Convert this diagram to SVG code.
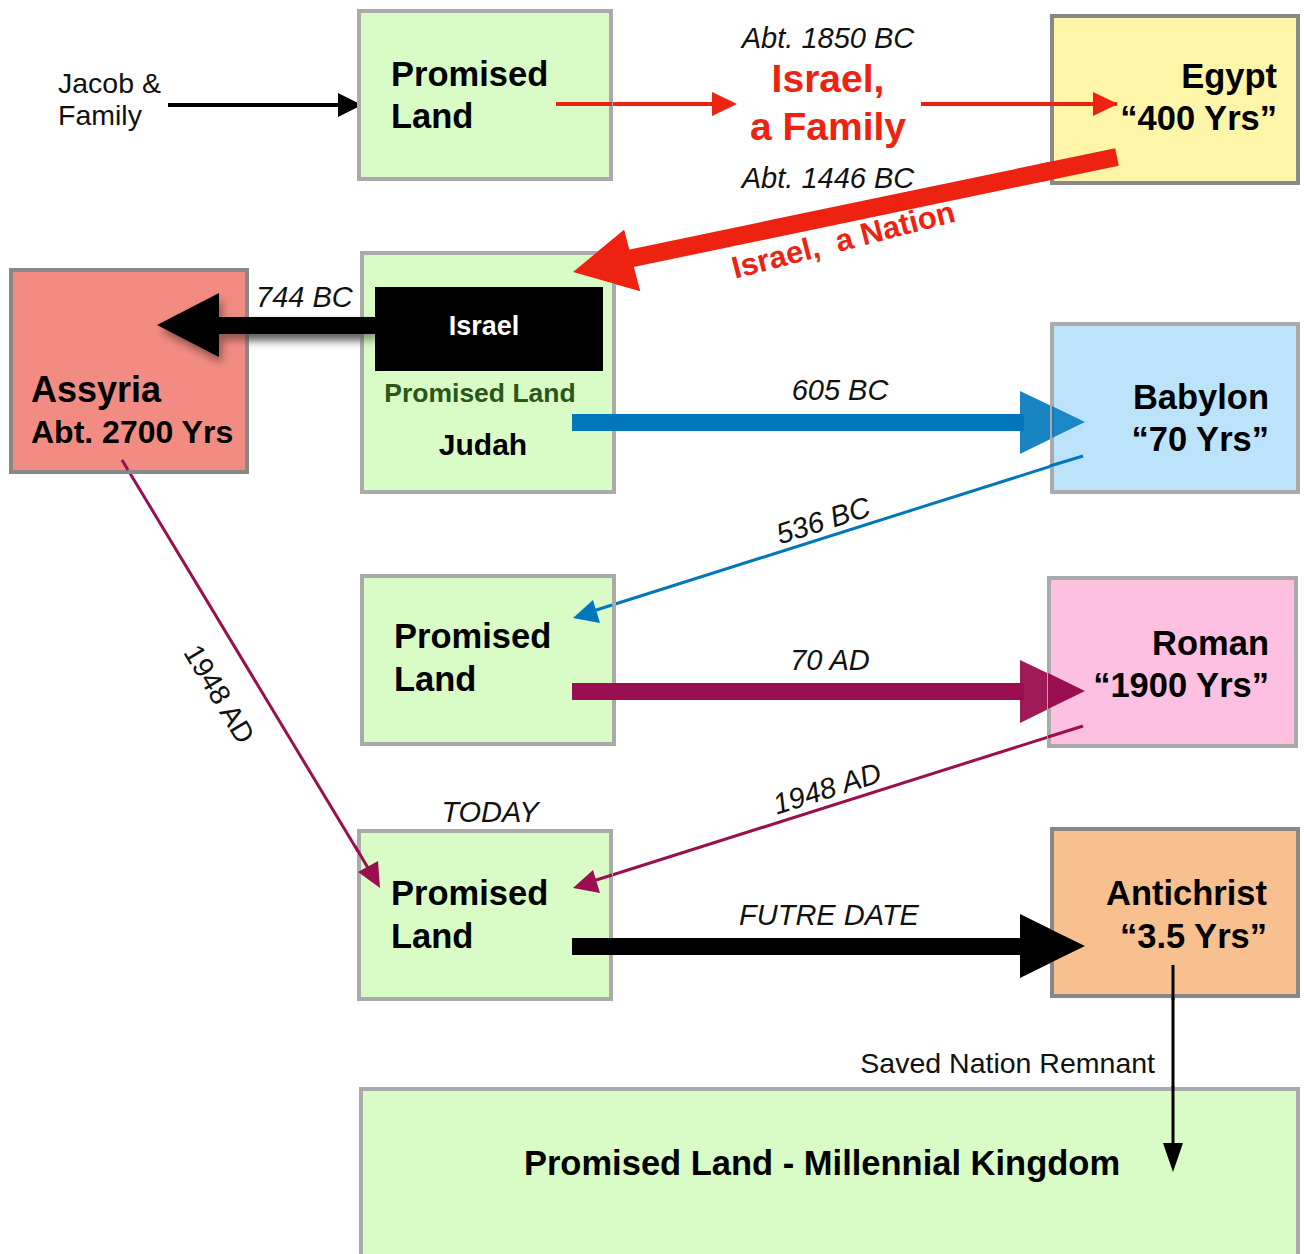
<svg xmlns="http://www.w3.org/2000/svg" width="1304" height="1254" viewBox="0 0 1304 1254">
<style>
text{font-family:"Liberation Sans",Arial,sans-serif}
.b{font-weight:bold;font-size:34.5px;fill:#000}
.i{font-style:italic;font-size:29px;fill:#111}
.n{font-size:28.5px;fill:#111}
.lg{stroke:#aaa;stroke-width:4}
.dg{stroke:#888;stroke-width:4}
</style>
<defs>
<filter id="sh" x="-20%" y="-50%" width="150%" height="200%">
<feDropShadow dx="3" dy="6" stdDeviation="4" flood-color="#000" flood-opacity="0.4"/>
</filter>
</defs>
<g id="connectors">
<line x1="168" y1="105" x2="342" y2="105" stroke="#000" stroke-width="4"/>
<polygon points="362,105 338,93 338,117" fill="#000"/>
<line x1="556" y1="104" x2="716" y2="104" stroke="#ee2211" stroke-width="4"/>
<polygon points="737,104 712,92 712,116" fill="#ee2211"/>
<line x1="921" y1="104" x2="1097" y2="104" stroke="#ee2211" stroke-width="4"/>
<polygon points="1118,104 1093,92 1093,116" fill="#ee2211"/>
<line x1="1117" y1="157" x2="628" y2="259" stroke="#ee2211" stroke-width="18"/>
<polygon points="573,272 624,230 640,291" fill="#ee2211"/>
<g filter="url(#sh)">
<rect x="215" y="317" width="162" height="17" fill="#000"/>
<polygon points="157,325 219,293 219,357" fill="#000"/>
</g>
<rect x="572" y="414" width="452" height="17" fill="#0077bb"/>
<polygon points="1085,422 1020,391 1020,454" fill="#0077bb" fill-opacity="0.9"/>
<line x1="1083" y1="456" x2="590" y2="612" stroke="#0077bb" stroke-width="3"/>
<polygon points="573,618 593,600 600,623" fill="#0077bb"/>
<rect x="572" y="683" width="452" height="17" fill="#990f4f"/>
<polygon points="1085,691 1020,660 1020,723" fill="#990f4f" fill-opacity="0.95"/>
<line x1="1083" y1="726" x2="590" y2="882" stroke="#990f4f" stroke-width="3"/>
<polygon points="573,888 593,870 600,893" fill="#990f4f"/>
<line x1="122" y1="460" x2="371" y2="873" stroke="#990f4f" stroke-width="3"/>
<polygon points="380,888 358,872 378,861" fill="#990f4f"/>
<rect x="572" y="938" width="452" height="17" fill="#000"/>
<polygon points="1085,946 1020,914 1020,978" fill="#000"/>
<line x1="1173" y1="965" x2="1173" y2="1145" stroke="#000" stroke-width="3"/>
<polygon points="1173,1172 1163,1143 1183,1143" fill="#000"/>
</g>
<g id="labels">
<text class="n" x="58" y="93">Jacob &amp;</text>
<text class="n" x="58" y="125">Family</text>
<text class="i" x="828" y="48" text-anchor="middle">Abt. 1850 BC</text>
<text x="828" y="92" text-anchor="middle" font-weight="bold" font-size="39" fill="#ee2211">Israel,</text>
<text x="828" y="140" text-anchor="middle" font-weight="bold" font-size="39" fill="#ee2211">a Family</text>
<text class="i" x="828" y="188" text-anchor="middle">Abt. 1446 BC</text>
<text transform="translate(846,250) rotate(-14.5)" text-anchor="middle" font-weight="bold" font-size="31" fill="#ee2211" xml:space="preserve">Israel,  a Nation</text>
<text class="i" x="256" y="307">744 BC</text>
<text class="i" x="840" y="400" text-anchor="middle">605 BC</text>
<text class="i" transform="translate(826,530) rotate(-17.5)" text-anchor="middle">536 BC</text>
<text class="i" x="830" y="670" text-anchor="middle">70 AD</text>
<text class="i" transform="translate(830,798) rotate(-17.5)" text-anchor="middle">1948 AD</text>
<text class="n" transform="translate(211,699) rotate(59)" text-anchor="middle">1948 AD</text>
<text class="i" x="490" y="822" text-anchor="middle">TODAY</text>
<text class="i" x="829" y="925" text-anchor="middle">FUTRE DATE</text>
<text class="n" x="1155" y="1073" text-anchor="end">Saved Nation Remnant</text>
</g>
<g id="promised1">
<rect x="359" y="11" width="252" height="168" fill="#d9fbc6" class="lg"/>
<text class="b" x="391" y="86">Promised</text>
<text class="b" x="391" y="128">Land</text>
</g>
<g id="egypt">
<rect x="1052" y="16" width="246" height="167" fill="#fef5a8" class="dg"/>
<text class="b" x="1277" y="88" text-anchor="end">Egypt</text>
<text class="b" x="1277" y="130" text-anchor="end">“400 Yrs”</text>
</g>
<g id="assyria">
<rect x="11" y="270" width="236" height="202" fill="#f28c82" class="dg"/>
<text x="31" y="402" font-weight="bold" font-size="36">Assyria</text>
<text x="31" y="443" font-weight="bold" font-size="32">Abt. 2700 Yrs</text>
</g>
<g id="promised2">
<rect x="362" y="253" width="252" height="239" fill="#d9fbc6" class="lg"/>
<rect x="375" y="287" width="228" height="84" fill="#000"/>
<text x="484" y="335" text-anchor="middle" font-weight="bold" font-size="27" fill="#fff">Israel</text>
<text x="480" y="402" text-anchor="middle" font-weight="bold" font-size="26.5" fill="#2c5518">Promised Land</text>
<text x="483" y="455" text-anchor="middle" font-weight="bold" font-size="30">Judah</text>
</g>
<g id="babylon">
<rect x="1052" y="324" width="246" height="168" fill="#bde3fb" class="lg"/>
<text class="b" x="1269" y="409" text-anchor="end">Babylon</text>
<text class="b" x="1269" y="451" text-anchor="end">“70 Yrs”</text>
</g>
<g id="promised3">
<rect x="362" y="576" width="252" height="168" fill="#d9fbc6" class="lg"/>
<text class="b" x="394" y="648">Promised</text>
<text class="b" x="394" y="691">Land</text>
</g>
<g id="roman">
<rect x="1049" y="578" width="247" height="168" fill="#fec0e0" class="lg"/>
<text class="b" x="1269" y="655" text-anchor="end">Roman</text>
<text class="b" x="1269" y="697" text-anchor="end">“1900 Yrs”</text>
</g>
<g id="promised4">
<rect x="359" y="831" width="252" height="168" fill="#d9fbc6" class="lg"/>
<text class="b" x="391" y="905">Promised</text>
<text class="b" x="391" y="948">Land</text>
</g>
<g id="antichrist">
<rect x="1052" y="829" width="246" height="167" fill="#f8c08e" class="dg"/>
<text class="b" x="1267" y="905" text-anchor="end">Antichrist</text>
<text class="b" x="1267" y="948" text-anchor="end">“3.5 Yrs”</text>
</g>
<g id="millennial">
<rect x="361" y="1089" width="937" height="180" fill="#d9fbc6" class="lg"/>
<text class="b" x="822" y="1175" text-anchor="middle">Promised Land - Millennial Kingdom</text>
</g>
<g id="overlays">
<polygon points="573,272 624,230 640,291" fill="#ee2211"/>
<line x1="1117" y1="157" x2="1040" y2="173" stroke="#ee2211" stroke-width="18"/>
<line x1="1117" y1="104" x2="1040" y2="104" stroke="#ee2211" stroke-width="4"/>
<polygon points="1118,104 1093,92 1093,116" fill="#ee2211"/>
<rect x="556" y="102" width="56" height="4" fill="#ee2211"/>
<g filter="url(#sh)">
<polygon points="157,325 219,293 219,357" fill="#000"/>
<rect x="215" y="317" width="160" height="17" fill="#000"/>
</g>
<rect x="572" y="414" width="44" height="17" fill="#0077bb"/>
<polygon points="1085,422 1052,406 1052,438" fill="#0077bb" fill-opacity="0.85"/>
<line x1="1083" y1="456" x2="1050" y2="466" stroke="#0077bb" stroke-width="3"/>
<line x1="590" y1="612" x2="612" y2="605" stroke="#0077bb" stroke-width="3"/>
<polygon points="573,618 593,600 600,623" fill="#0077bb"/>
<rect x="572" y="683" width="44" height="17" fill="#990f4f"/>
<polygon points="1085,691 1048,673 1048,709" fill="#990f4f"/>
<line x1="1083" y1="726" x2="1048" y2="737" stroke="#990f4f" stroke-width="3"/>
<line x1="590" y1="882" x2="612" y2="875" stroke="#990f4f" stroke-width="3"/>
<polygon points="573,888 593,870 600,893" fill="#990f4f"/>
<line x1="122" y1="460" x2="128" y2="470" stroke="#990f4f" stroke-width="3"/>
<line x1="355" y1="846" x2="371" y2="873" stroke="#990f4f" stroke-width="3"/>
<polygon points="380,888 358,872 378,861" fill="#990f4f"/>
<rect x="572" y="938" width="44" height="17" fill="#000"/>
<polygon points="1085,946 1050,929 1050,963" fill="#000"/>
<line x1="1173" y1="965" x2="1173" y2="1000" stroke="#000" stroke-width="3"/>
<line x1="1173" y1="1086" x2="1173" y2="1145" stroke="#000" stroke-width="3"/>
<polygon points="1173,1172 1163,1143 1183,1143" fill="#000"/>
</g>
</svg>
